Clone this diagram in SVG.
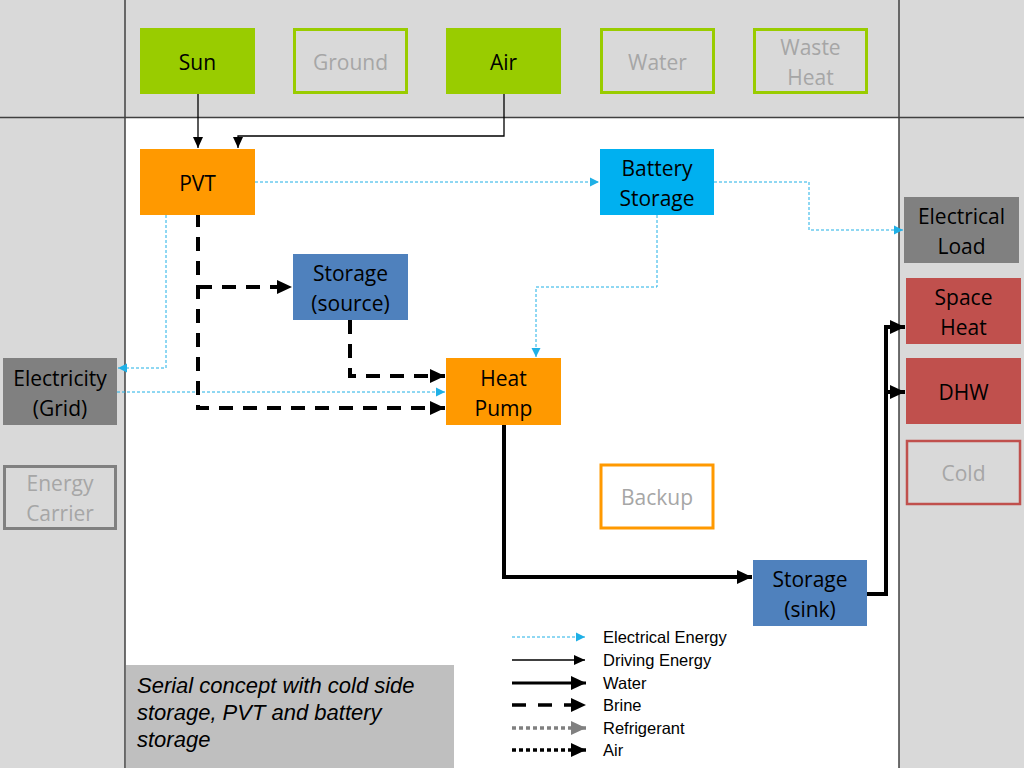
<svg xmlns="http://www.w3.org/2000/svg" width="1024" height="768" viewBox="0 0 1024 768">
<defs>
<style>
.lbl{font-family:"Open Sans","Noto Sans",sans-serif;font-size:21px;fill:#000;text-anchor:middle}
.dim{fill:#a6a6a6}
.grn{fill:#99cc00}
.grnO{fill:none;stroke:#99cc00;stroke-width:3}
.org{fill:#ff9900}
.blu{fill:#4f81bd}
.cyan{fill:#00b0f0}
.gry{fill:#808080}
.red{fill:#c0504d}
.elec{fill:none;stroke:#1fb0e6;stroke-width:1;stroke-dasharray:3 2}
.drive{fill:none;stroke:#000;stroke-width:1.3}
.water{fill:none;stroke:#000;stroke-width:4}
.brine{fill:none;stroke:#000;stroke-width:4;stroke-dasharray:14 10}
.leg{font-family:"Liberation Sans",Arial,sans-serif;font-size:16.5px;fill:#000}
</style>
<marker id="mE" markerUnits="userSpaceOnUse" markerWidth="10" markerHeight="10" refX="9" refY="5" orient="auto"><path d="M0,0.5 L9,5 L0,9.5 Z" fill="#1fb0e6"/></marker>
<marker id="mD" markerUnits="userSpaceOnUse" markerWidth="12" markerHeight="12" refX="11" refY="6" orient="auto"><path d="M0,1 L11,6 L0,11 Z" fill="#000"/></marker>
<marker id="mW" markerUnits="userSpaceOnUse" markerWidth="16" markerHeight="16" refX="15" refY="8" orient="auto"><path d="M0,1 L15,8 L0,15 Z" fill="#000"/></marker>
<marker id="mR" markerUnits="userSpaceOnUse" markerWidth="16" markerHeight="16" refX="15" refY="8" orient="auto"><path d="M0,1 L15,8 L0,15 Z" fill="#808080"/></marker>
</defs>

<!-- background -->
<rect x="0" y="0" width="1024" height="768" fill="#d9d9d9"/>
<rect x="125" y="117" width="774" height="651" fill="#ffffff"/>
<g stroke="#404040" stroke-width="1.5">
<line x1="125" y1="0" x2="125" y2="768"/>
<line x1="899" y1="0" x2="899" y2="768"/>
<line x1="0" y1="117.5" x2="1024" y2="117.5"/>
</g>

<!-- connectors -->
<g id="connectors">
<path class="drive" d="M198,94 V148" marker-end="url(#mD)"/>
<path class="drive" d="M504,94 V136 H238 V148" marker-end="url(#mD)"/>
<path class="elec" d="M255,182 H599" marker-end="url(#mE)"/>
<path class="elec" d="M714,182 H809 V230 H903" marker-end="url(#mE)"/>
<path class="elec" d="M657,215 V287 H536 V357" marker-end="url(#mE)"/>
<path class="elec" d="M166,215 V368 H118" marker-end="url(#mE)"/>
<path class="elec" d="M117,392 H445" marker-end="url(#mE)"/>
<path class="brine" d="M198,213 V408 H445" marker-end="url(#mW)"/>
<path class="brine" d="M198,287 H292" marker-end="url(#mW)"/>
<path class="brine" d="M350,320 V376 H445" marker-end="url(#mW)"/>
<path class="water" d="M504,425 V577 H752" marker-end="url(#mW)"/>
<path class="water" d="M867,594 H886 V327 H905" marker-end="url(#mW)"/>
<path class="water" d="M886,392 H905" marker-end="url(#mW)"/>
</g>

<!-- sources -->
<g id="sun"><rect class="grn" x="140" y="28" width="115" height="66"/><text class="lbl" x="197.5" y="70">Sun</text></g>
<g id="ground"><rect class="grnO" x="294.5" y="29.5" width="112" height="63"/><text class="lbl dim" x="350.5" y="70">Ground</text></g>
<g id="air"><rect class="grn" x="446" y="28" width="115" height="66"/><text class="lbl" x="503.5" y="70">Air</text></g>
<g id="water"><rect class="grnO" x="601.5" y="29.5" width="112" height="63"/><text class="lbl dim" x="657.5" y="70">Water</text></g>
<g id="wasteheat"><rect class="grnO" x="754.5" y="29.5" width="112" height="63"/><text class="lbl dim" x="810.5" y="55">Waste</text><text class="lbl dim" x="810.5" y="85">Heat</text></g>

<!-- components -->
<g id="pvt"><rect class="org" x="140" y="149" width="115" height="66"/><text class="lbl" x="197.5" y="191">PVT</text></g>
<g id="battery"><rect class="cyan" x="600" y="149" width="114" height="66"/><text class="lbl" x="657" y="176">Battery</text><text class="lbl" x="657" y="206">Storage</text></g>
<g id="storage-source"><rect class="blu" x="293" y="254" width="115" height="66"/><text class="lbl" x="350.5" y="281">Storage</text><text class="lbl" x="350.5" y="311">(source)</text></g>
<g id="heatpump"><rect class="org" x="446" y="358" width="115" height="67"/><text class="lbl" x="503.5" y="386">Heat</text><text class="lbl" x="503.5" y="416">Pump</text></g>
<g id="backup"><rect x="601" y="465" width="112" height="63" fill="#fff" stroke="#ff9900" stroke-width="3"/><text class="lbl dim" x="657" y="505">Backup</text></g>
<g id="storage-sink"><rect class="blu" x="753" y="560" width="114" height="66"/><text class="lbl" x="810" y="587">Storage</text><text class="lbl" x="810" y="617">(sink)</text></g>

<!-- left column -->
<g id="electricity"><rect class="gry" x="3" y="358" width="114" height="67"/><text class="lbl" x="60" y="386">Electricity</text><text class="lbl" x="60" y="416">(Grid)</text></g>
<g id="energycarrier"><rect x="4.5" y="466.5" width="111" height="62" fill="none" stroke="#808080" stroke-width="3"/><text class="lbl dim" x="60" y="491">Energy</text><text class="lbl dim" x="60" y="521">Carrier</text></g>

<!-- right column -->
<g id="electricalload"><rect class="gry" x="904" y="197" width="115" height="66"/><text class="lbl" x="961.5" y="224">Electrical</text><text class="lbl" x="961.5" y="254">Load</text></g>
<g id="spaceheat"><rect class="red" x="906" y="278" width="115" height="66"/><text class="lbl" x="963.5" y="305">Space</text><text class="lbl" x="963.5" y="335">Heat</text></g>
<g id="dhw"><rect class="red" x="906" y="358" width="115" height="66"/><text class="lbl" x="963.5" y="400">DHW</text></g>
<g id="cold"><rect x="907" y="441" width="113" height="63" fill="none" stroke="#c0504d" stroke-width="2.5"/><text class="lbl dim" x="963.5" y="481">Cold</text></g>

<!-- caption -->
<g id="caption">
<rect x="126" y="665" width="328" height="103" fill="#bfbfbf"/>
<g font-family="'Liberation Sans',Arial,sans-serif" font-size="22" font-style="italic" fill="#000">
<text x="137" y="693">Serial concept with cold side</text>
<text x="137" y="720">storage, PVT and battery</text>
<text x="137" y="747">storage</text>
</g>
</g>

<!-- legend -->
<g id="legend">
<path class="elec" d="M512,637 H585" marker-end="url(#mE)"/>
<path class="drive" d="M512,660 H585" marker-end="url(#mD)"/>
<path fill="none" stroke="#000" stroke-width="3" d="M512,683 H586" marker-end="url(#mW)"/>
<path fill="none" stroke="#000" stroke-width="3.5" stroke-dasharray="14 12" d="M512,705 H586" marker-end="url(#mW)"/>
<path fill="none" stroke="#808080" stroke-width="3.5" stroke-dasharray="4 3" d="M512,728 H586" marker-end="url(#mR)"/>
<path fill="none" stroke="#000" stroke-width="3.5" stroke-dasharray="4 3" d="M512,750 H586" marker-end="url(#mW)"/>
<text class="leg" x="603" y="643">Electrical Energy</text>
<text class="leg" x="603" y="666">Driving Energy</text>
<text class="leg" x="603" y="689">Water</text>
<text class="leg" x="603" y="711">Brine</text>
<text class="leg" x="603" y="734">Refrigerant</text>
<text class="leg" x="603" y="756">Air</text>
</g>
</svg>
